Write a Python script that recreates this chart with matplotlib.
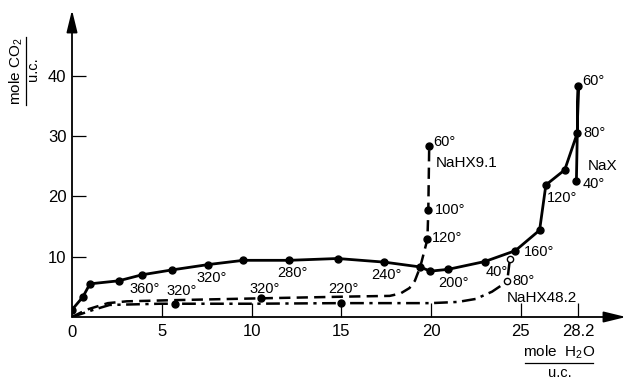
import numpy as np
import matplotlib
matplotlib.use('Agg')
import matplotlib.pyplot as plt
from matplotlib.lines import Line2D

plt.rcParams['font.family'] = ['Liberation Sans', 'DejaVu Sans']
plt.rcParams['mathtext.fontset'] = 'custom'
plt.rcParams['mathtext.rm'] = 'Liberation Sans'
plt.rcParams['mathtext.default'] = 'regular'

# NaX (solid)
nax_x = [0, 0.6, 1.0, 2.6, 3.9, 5.55, 7.6, 9.55, 12.1, 14.8, 17.4, 19.4, 19.95,
         20.95, 23.0, 24.7, 26.05, 26.4, 27.45, 28.15, 28.2, 28.1]
nax_y = [1.2, 3.3, 5.5, 6.0, 7.0, 7.8, 8.7, 9.4, 9.4, 9.7, 9.1, 8.3, 7.6,
         7.9, 9.2, 11.0, 14.4, 21.9, 24.4, 30.5, 38.3, 22.5]

# NaHX9.1 (dashed)
hx9_x = [0, 0.8, 2.0, 3.05, 5.75, 10.55, 15.65, 17.7, 18.3, 18.8, 19.1, 19.4, 19.8, 19.85, 19.9]
hx9_y = [0, 1.2, 2.3, 2.6, 2.8, 3.1, 3.4, 3.5, 3.9, 4.8, 6.0, 8.3, 12.9, 17.7, 28.4]
hx9_dots = [5, 12, 13, 14]

# NaHX48.2 (dash-dot)
hx48_x = [0, 1.2, 2.1, 4.9, 5.75, 10, 15.0, 20, 21.5, 22.5, 23.4, 23.9, 24.25, 24.4]
hx48_y = [0, 1.2, 2.0, 2.2, 2.2, 2.2, 2.3, 2.3, 2.5, 3.0, 4.2, 5.2, 6.0, 9.7]
hx48_dots = [4, 6]
hx48_open = [12, 13]

# temperature labels (text, x, y)
temp_labels = [
    ('360°', 4.05, 4.6), ('320°', 6.1, 4.3), ('320°', 7.8, 6.5), ('280°', 12.3, 7.3),
    ('320°', 10.75, 4.6), ('220°', 15.1, 4.6), ('240°', 17.5, 7.0), ('200°', 21.25, 5.6),
    ('40°', 23.65, 7.5), ('120°', 27.3, 19.7),
]
left_labels = [
    ('80°', 24.55, 6.0), ('160°', 25.15, 10.7), ('40°', 28.45, 22.0), ('NaX', 28.75, 25.1),
    ('80°', 28.5, 30.5), ('60°', 28.4, 39.1), ('60°', 20.15, 29.1), ('NaHX9.1', 20.25, 25.5),
    ('100°', 20.2, 17.7), ('120°', 20.05, 13.1),
]

x_ticks = [5, 10, 15, 20, 25, 28.2]
x_ticklabels = ['5', '10', '15', '20', '25', '28.2']
y_ticks = [10, 20, 30, 40]

W, H = 626, 380
fig = plt.figure(figsize=(W / 100, H / 100), dpi=100)
x0, y0, x1, y1 = 72, 317, 626, 10
ax = fig.add_axes([x0 / W, 1 - y0 / H, (x1 - x0) / W, (y0 - y1) / H])
ax.set_xlim(0, (x1 - x0) / 17.95)
ax.set_ylim(0, (y0 - y1) / 6.03)

ax.plot(nax_x, nax_y, '-', color='k', lw=2.0, marker='o', ms=5)
ax.plot(hx9_x, hx9_y, color='k', lw=1.8, dashes=(4.5, 2.5))
ax.plot([hx9_x[i] for i in hx9_dots], [hx9_y[i] for i in hx9_dots], 'o', color='k', ms=5)
ax.plot(hx48_x, hx48_y, color='k', lw=1.8, dashes=(5.5, 2.2, 1.3, 2.2))
ax.plot([hx48_x[i] for i in hx48_dots], [hx48_y[i] for i in hx48_dots], 'o', color='k', ms=5)
ax.plot([hx48_x[i] for i in hx48_open], [hx48_y[i] for i in hx48_open], 'o',
        mfc='white', mec='k', ms=4.5, mew=1)

for t, x, y in temp_labels:
    ax.text(x, y, t, fontsize=10.5, ha='center', va='center')
for t, x, y in left_labels:
    ax.text(x, y, t, fontsize=11 if t.startswith('Na') else 10.5, ha='left', va='center')
ax.text(26.15, 3.1, 'NaHX48.2', fontsize=11, ha='center', va='center')

# axes with arrows
for s in ['top', 'right', 'left', 'bottom']:
    ax.spines[s].set_visible(False)
arr = dict(arrowstyle='-|>,head_length=0.9,head_width=0.22', lw=1.3, color='k',
           mutation_scale=15, shrinkA=0, shrinkB=0)
ax.annotate('', xy=(1, 0), xytext=(0, 0), xycoords='axes fraction', arrowprops=arr,
            annotation_clip=False)
ax.annotate('', xy=(0, 1), xytext=(0, 0), xycoords='axes fraction', arrowprops=arr,
            annotation_clip=False)

ax.set_xticks(x_ticks)
ax.set_xticklabels(x_ticklabels)
ax.set_yticks(y_ticks)
ax.tick_params(direction='in', length=10, width=0.9, labelsize=12, pad=4)
ax.tick_params(axis='x', pad=5)
ax.text(0, -1.3, '0', fontsize=12, ha='center', va='top')

# fraction-style axis labels
fig.text(16 / W, 1 - 71 / H, 'mole CO$_2$', rotation=90, fontsize=11, ha='center', va='center')
fig.add_artist(Line2D([25.5 / W, 25.5 / W], [1 - 37 / H, 1 - 105 / H], color='k', lw=0.9))
fig.text(33.5 / W, 1 - 69 / H, 'u.c.', rotation=90, fontsize=10.5, ha='center', va='center')

fig.text(559 / W, 1 - 352 / H, 'mole  H$_2$O', fontsize=11, ha='center', va='center')
fig.add_artist(Line2D([525 / W, 593 / W], [1 - 363 / H, 1 - 363 / H], color='k', lw=0.9))
fig.text(560 / W, 1 - 373 / H, 'u.c.', fontsize=10.5, ha='center', va='center')

fig.savefig('out.png', dpi=100)
